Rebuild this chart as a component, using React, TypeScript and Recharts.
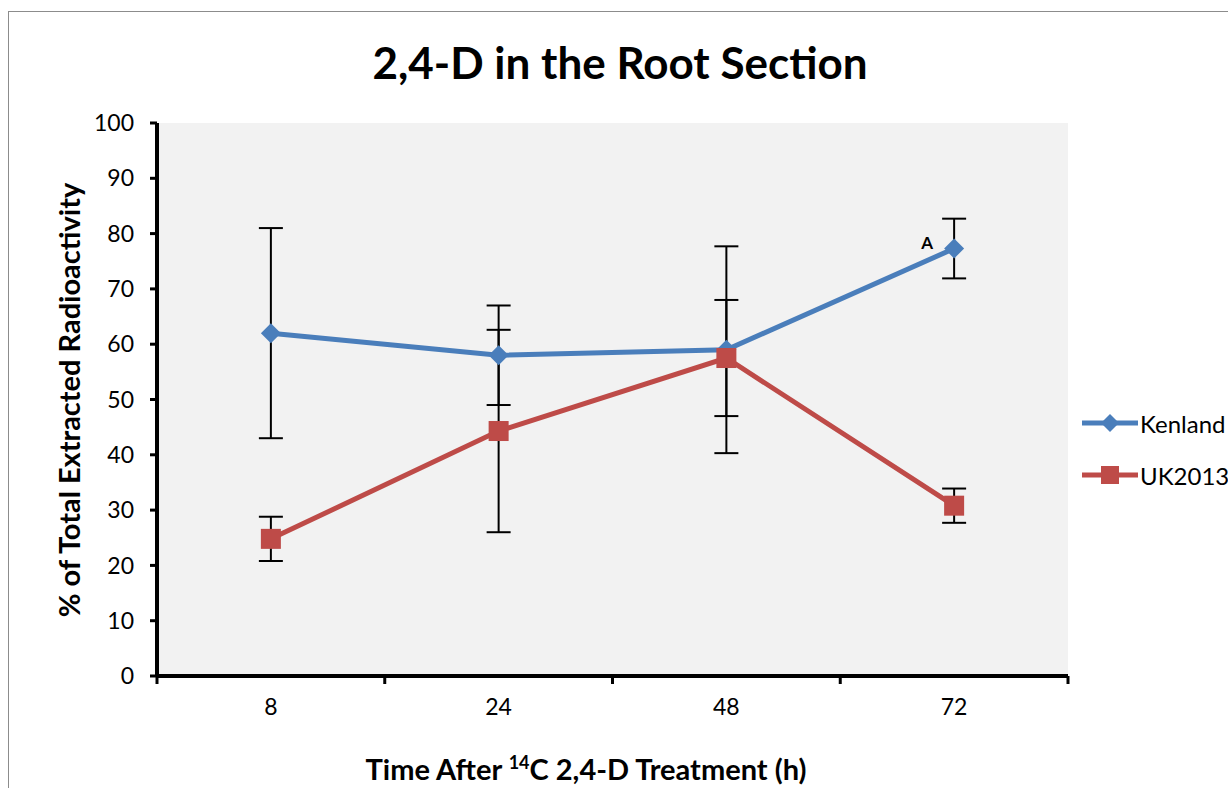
import React from 'react';
import {
  LineChart,
  Line,
  XAxis,
  YAxis,
  CartesianGrid,
  ErrorBar,
  LabelList,
} from 'recharts';

const categories = ['8', '24', '48', '72'];
const kenland = [62, 58, 59, 77.3];
const kenlandErr = [19, 9, 18.7, 5.4];
const uk2013 = [24.8, 44.3, 57.5, 30.8];
const uk2013Err = [4, 18.3, 10.5, 3.1];
const yTicks = [0, 10, 20, 30, 40, 50, 60, 70, 80, 90, 100];
const boundaryTicks = [0, 1, 2, 3, 4];
const centerTicks = [0.5, 1.5, 2.5, 3.5];
const annotations = ['', '', '', 'A'];

const FONT = 'Lato, "Open Sans", sans-serif';
const BLUE = '#4a7ebb';
const RED = '#be4b48';

const data = categories.map((c, i) => ({
  pos: i + 0.5,
  label: c,
  kenland: kenland[i],
  kenlandErr: kenlandErr[i],
  uk2013: uk2013[i],
  uk2013Err: uk2013Err[i],
  note: annotations[i],
}));

function Diamond(props: any) {
  const { cx, cy } = props;
  if (cx == null || cy == null) return null;
  const r = 10;
  return (
    <polygon
      points={`${cx},${cy - r} ${cx + r},${cy} ${cx},${cy + r} ${cx - r},${cy}`}
      fill={BLUE}
    />
  );
}

function Square(props: any) {
  const { cx, cy } = props;
  if (cx == null || cy == null) return null;
  const s = 10;
  return <rect x={cx - s} y={cy - s} width={s * 2} height={s * 2} fill={RED} />;
}

function NoteLabel(props: any) {
  const { x, y, value } = props;
  if (!value) return null;
  return (
    <text
      x={x - 27}
      y={y - 6}
      textAnchor="middle"
      dominantBaseline="central"
      fontFamily={FONT}
      fontWeight="bold"
      fontSize={17}
      fill="#000"
    >
      {value}
    </text>
  );
}

const legendItems = [
  { name: 'Kenland', color: BLUE, shape: 'diamond' },
  { name: 'UK2013', color: RED, shape: 'square' },
];

export default function App() {
  return (
    <div style={{ position: 'absolute', left: 0, top: 0, width: 1228, height: 788, background: '#fff', overflow: 'hidden', fontFamily: FONT }}>
      <div style={{ position: 'absolute', left: 8, top: 11, width: 1300, height: 900, border: '1px solid #8c8c8c' }} />
      <div style={{ position: 'absolute', left: 0, top: 36, width: 1240, textAlign: 'center', fontSize: 44, fontWeight: 'bold', color: '#000' }}>
        2,4-D in the Root Section
      </div>
      <LineChart
        width={1228}
        height={788}
        data={data}
        margin={{ top: 123, right: 160, left: 97, bottom: 62 }}
        style={{ position: 'absolute', left: 0, top: 0 }}
      >
        <CartesianGrid fill="#f2f2f2" horizontal={false} vertical={false} stroke="none" />
        <XAxis
          xAxisId="grid"
          dataKey="pos"
          type="number"
          domain={[0, 4]}
          ticks={boundaryTicks}
          tickFormatter={() => ''}
          tick={{ fontSize: 1 }}
          tickLine={{ stroke: '#000', strokeWidth: 3 }}
          tickSize={8}
          axisLine={{ stroke: '#000', strokeWidth: 4 }}
          height={10}
        />
        <XAxis
          xAxisId="labels"
          dataKey="pos"
          type="number"
          domain={[0, 4]}
          ticks={centerTicks}
          tickFormatter={(v: number) => categories[Math.floor(v)]}
          tick={{ fill: '#000', fontSize: 23, fontFamily: FONT }}
          tickLine={false}
          axisLine={false}
          tickSize={0}
          tickMargin={13}
          height={40}
        />
        <YAxis
          type="number"
          domain={[0, 100]}
          ticks={yTicks}
          interval={0}
          tick={{ fill: '#000', fontSize: 23, fontFamily: FONT }}
          tickLine={{ stroke: '#000', strokeWidth: 3 }}
          tickSize={7}
          tickMargin={16}
          axisLine={{ stroke: '#000', strokeWidth: 4 }}
          width={60}
        />
        <Line
          xAxisId="grid"
          dataKey="kenland"
          name="Kenland"
          stroke={BLUE}
          strokeWidth={5}
          dot={<Diamond />}
          activeDot={false}
          isAnimationActive={false}
        >
          <ErrorBar dataKey="kenlandErr" direction="y" width={12} stroke="#000" strokeWidth={2} />
          <LabelList dataKey="note" content={<NoteLabel />} />
        </Line>
        <Line
          xAxisId="grid"
          dataKey="uk2013"
          name="UK2013"
          stroke={RED}
          strokeWidth={5}
          dot={<Square />}
          activeDot={false}
          isAnimationActive={false}
        >
          <ErrorBar dataKey="uk2013Err" direction="y" width={12} stroke="#000" strokeWidth={2} />
        </Line>
      </LineChart>
      <div style={{ position: 'absolute', left: 68, top: 400, width: 0, height: 0 }}>
        <div
          style={{
            position: 'absolute',
            left: 0,
            top: 0,
            transform: 'translate(-50%, -50%) rotate(-90deg)',
            whiteSpace: 'nowrap',
            fontSize: 29,
            fontWeight: 'bold',
            color: '#000',
          }}
        >
          % of Total Extracted Radioactivity
        </div>
      </div>
      <div style={{ position: 'absolute', left: 0, top: 751, width: 1172, textAlign: 'center', fontSize: 29, fontWeight: 'bold', color: '#000' }}>
        Time After <sup style={{ fontSize: 18 }}>14</sup>C 2,4-D Treatment (h)
      </div>
      {legendItems.map((item, i) => (
        <div key={item.name} style={{ position: 'absolute', left: 1082, top: 409 + i * 52, height: 28, display: 'flex', alignItems: 'center' }}>
          <svg width={56} height={26}>
            <line x1={0} y1={13} x2={56} y2={13} stroke={item.color} strokeWidth={5} />
            {item.shape === 'diamond' ? (
              <polygon points="28,4 37,13 28,22 19,13" fill={item.color} />
            ) : (
              <rect x={19} y={4} width={18} height={18} fill={item.color} />
            )}
          </svg>
          <span style={{ marginLeft: 2, fontSize: 24, color: '#000' }}>{item.name}</span>
        </div>
      ))}
    </div>
  );
}
